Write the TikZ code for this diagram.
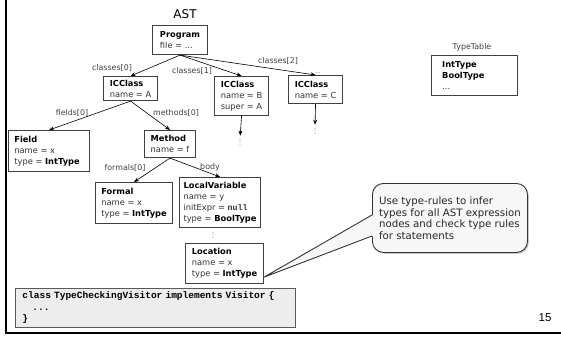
\documentclass[tikz,border=0pt]{standalone}
\usepackage{fontspec}
\setmainfont{DejaVu Sans}
\setmonofont{Liberation Mono}
\newfontfamily\arialfont{Liberation Sans}
\usetikzlibrary{arrows.meta,calc,shadows}

\newcommand\hd[1]{\textcolor{black}{\textbf{#1}}}

\begin{document}
\begin{tikzpicture}[x=1pt,y=-1pt,
  box/.style={draw=black!75, line width=1.1pt, fill=white, anchor=north west,
    inner xsep=3pt, inner ysep=2pt, align=left,
    font=\fontsize{8.3}{11}\selectfont, text=black!80},
  lbl/.style={font=\fontsize{7.9}{10}\selectfont, text=black!75, inner sep=0pt},
  vdot/.style={font=\fontsize{7}{7}\selectfont, text=black!55, inner sep=0.3pt},
  edge/.style={draw=black, line width=0.6pt, -{Stealth[length=5pt,width=4pt]}},
  code/.style={draw=black!65, line width=0.9pt, fill=black!7, anchor=north west,
    inner xsep=7pt, inner ysep=2pt, align=left,
    font=\ttfamily\bfseries\fontsize{9.5}{11.5}\selectfont},
  note/.style={draw=black!80, line width=0.9pt, fill=black!3, rounded corners=11pt,
    anchor=north west, inner sep=0pt, align=left,
    font=\fontsize{10.2}{11.5}\selectfont, text=black!85,
    drop shadow={shadow xshift=1.3pt, shadow yshift=-1.3pt, opacity=0.45}},
]
\useasboundingbox (0,0) rectangle (561,337);

% slide frame
\draw[line width=2pt] (6,0) -- (6,333.3) -- (561,333.3);

% titles
\node[font=\fontsize{12}{14}\selectfont] (ast) at (185,14) {AST};
\node[lbl] (tt) at (472,47) {TypeTable};
\node[font=\arialfont\fontsize{11.5}{13}\selectfont] (page) at (545,318) {15};

% AST nodes
\node[box, minimum width=55pt, minimum height=29pt] (prog) at (152,25)
  {\hd{Program}\\file = ...};
\node[box, minimum width=54pt, minimum height=24pt] (clsA) at (103,76)
  {\hd{ICClass}\\name = A};
\node[box, minimum width=54pt, minimum height=39pt] (clsB) at (214,76)
  {\hd{ICClass}\\name = B\\super = A};
\node[box, minimum width=54pt, minimum height=28pt] (clsC) at (288,75)
  {\hd{ICClass}\\name = C};
\node[box, minimum width=81pt, minimum height=41pt] (field) at (8,130)
  {\hd{Field}\\name = x\\type = \hd{IntType}\hspace*{4pt}};
\node[box, minimum width=51pt, minimum height=27pt] (meth) at (144,130)
  {\hd{Method}\\name = f};
\node[box, minimum width=77pt, minimum height=41pt] (formal) at (95,182)
  {\hd{Formal}\\name = x\\type = \hd{IntType}};
\node[box, minimum width=81pt, minimum height=50pt] (lvar) at (179,177)
  {\hd{LocalVariable}\\name = y\\initExpr = \texttt{\textbf{null}}\\type = \hd{BoolType}};
\node[box, minimum width=78pt, minimum height=40pt] (loc) at (185,243)
  {\hd{Location}\\name = x\\type = \hd{IntType}};

% type table
\node[box, minimum width=86pt, minimum height=40pt] (types) at (431,55)
  {\hd{IntType}\hspace*{30pt}\\\hd{BoolType}\\...};

% continuation marks
\node[vdot] (bdots) at (240,142) {⋮};
\node[vdot] (cdots) at (315,131) {⋮};
\node[vdot] (ldots) at (213,235) {⋮};
\node[font=\fontsize{5.5}{6}\selectfont, text=black!70, inner sep=0pt] (cmore) at (318,73) {...};

% edges
\draw[edge] (prog.south) -- (clsA.north);
\draw[edge] (prog.south) -- (clsB.north);
\draw[edge] (prog.south) -- (clsC.north);
\draw[edge] (clsA.south) -- (field.north);
\draw[edge] (clsA.south) -- (meth.north);
\draw[edge] (meth.south) -- (formal.north);
\draw[edge] (meth.south) -- (lvar.north);
\draw[edge, shorten >=3pt] (clsB.south) -- (bdots.north);
\draw[edge, shorten >=3pt] (clsC.south) -- (cdots.north);

% edge labels
\node[lbl] (l0) at (112,68) {classes[0]};
\node[lbl] (l1) at (192,71) {classes[1]};
\node[lbl] (l2) at (278,61) {classes[2]};
\node[lbl] (lf) at (72,113) {fields[0]};
\node[lbl] (lm) at (176,113) {methods[0]};
\node[lbl] (lfo) at (125,168) {formals[0]};
\node[lbl] (lb) at (210,167) {body};

% code box
\node[code, text width=266pt, minimum height=39pt] (visitor) at (15,288)
  {class TypeCheckingVisitor implements Visitor \{\\
   \hspace*{2ex}...\\
   \}};

% callout with pointer
\node[note, minimum width=155pt, minimum height=69pt] (note) at (372,183)
  {Use type-rules to infer\\types for all AST expression\\nodes and check type rules\\for statements};
\coordinate (tip) at ($(loc.south east)+(0,-7)$);
\coordinate (wa) at ($(note.north west)+(0,32)$);
\coordinate (wb) at ($(note.north west)+(0,53)$);
\fill[black!3] ($(wa)+(1,0)$) -- (tip) -- ($(wb)+(1,0)$) -- cycle;
\draw[black!80, line width=0.9pt] (wa) -- (tip) -- (wb);
\end{tikzpicture}
\end{document}
